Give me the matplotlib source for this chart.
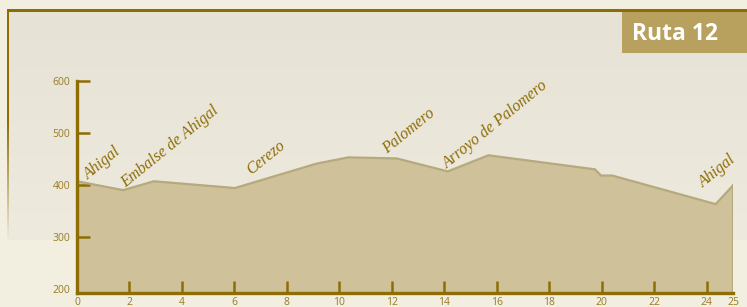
import numpy as np
import matplotlib
matplotlib.use("Agg")
import matplotlib.pyplot as plt
from matplotlib.colors import to_rgb

# ---- data ----
km = [0.0, 1.76, 2.93, 6.02, 9.13, 10.34, 12.18, 14.13, 15.68, 19.74, 19.97, 20.4, 24.34, 25.0]
elev = [407, 390, 407, 394, 441, 453, 451, 426, 457, 430, 418, 418, 363, 399]

place_names = ["Ahigal", "Embalse de Ahigal", "Cerezo", "Palomero", "Arroyo de Palomero", "Ahigal"]
place_km = [0.44, 1.84, 6.62, 11.8, 14.1, 23.88]
place_elev = [410, 394, 420, 459, 430, 395]

xtick_vals = [0, 2, 4, 6, 8, 10, 12, 14, 16, 18, 20, 22, 24, 25]
ytick_vals = [200, 300, 400, 500, 600]
title_text = "Ruta 12"

# ---- style ----
W, H, DPI = 747, 307, 100
BG = "#F2EEE0"
PANEL_TOP = "#E6E2D6"
PANEL_BOT = "#EEEADE"
BROWN = "#8E6D05"
TICKCOL = "#9A7B22"
FILL = "#CFC29B"
EDGE = "#B5A97E"
BOX = "#B8A05E"

fig = plt.figure(figsize=(W / DPI, H / DPI), dpi=DPI)
fig.patch.set_facecolor(BG)

# background panel (decoration)
img = np.ones((H, W, 3)) * np.array(to_rgb(BG))
top, bot = 11, 240
pt, pb = np.array(to_rgb(PANEL_TOP)), np.array(to_rgb(PANEL_BOT))
for r in range(top, bot):
    t = (r - top) / (bot - top)
    img[r, 8:, :] = pt * (1 - t) + pb * t
br = np.array(to_rgb(BROWN))
img[9:12, 7:, :] = br
for r in range(9, bot):
    a = 1.0 if r < 120 else max(0.0, 1 - (r - 120) / (bot - 120))
    img[r, 7:9, :] = br * a + img[r, 7:9, :] * (1 - a)
bgax = fig.add_axes([0, 0, 1, 1], zorder=-5)
bgax.imshow(img, aspect="auto", extent=(0, W, H, 0), interpolation="nearest")
bgax.set_xlim(0, W)
bgax.set_ylim(H, 0)
bgax.axis("off")

# title box
fig.patches.append(plt.Rectangle((622 / W, 1 - 53 / H), (W - 622) / W, 41 / H,
                                 transform=fig.transFigure, facecolor=BOX,
                                 edgecolor="none", zorder=1))
fig.text(675 / W, 1 - 34 / H, title_text, color="white", fontsize=16.5,
         fontweight="bold", family="Open Sans", ha="center", va="center",
         zorder=2)

# main axes
ymin = 192
ax = fig.add_axes([77 / W, 14 / H, 656 / W, 212 / H])
ax.set_facecolor("none")
ax.set_xlim(0, 25)
ax.set_ylim(ymin, 600)

ax.fill_between(km, elev, ymin, facecolor=FILL, edgecolor="none", zorder=1)
ax.plot(km, elev, color=EDGE, lw=1.6, zorder=2, solid_joinstyle="miter")
ax.plot([km[-1], km[-1]], [ymin, elev[-1]], color=EDGE, lw=1.6, zorder=2)

for s in ["top", "right"]:
    ax.spines[s].set_visible(False)
for s in ["left", "bottom"]:
    ax.spines[s].set_color(BROWN)
    ax.spines[s].set_linewidth(2.4)
    ax.spines[s].set_zorder(5)

ax.xaxis.remove_overlapping_locs = False
ax.yaxis.remove_overlapping_locs = False
ax.set_xticks(xtick_vals)
ax.set_xticklabels([str(v) for v in xtick_vals])
ax.set_xticks([v for v in xtick_vals if 0 < v < 25], minor=True)
ax.set_yticks(ytick_vals)
ax.set_yticklabels([str(v) for v in ytick_vals])
ax.set_yticks([v for v in ytick_vals if v > 200], minor=True)

ax.tick_params(axis="both", which="major", length=0, labelcolor=TICKCOL,
               labelsize=7.5)
ax.tick_params(axis="x", which="major", pad=3)
ax.tick_params(axis="y", which="major", pad=5)
ax.tick_params(axis="both", which="minor", direction="in", length=9,
               width=1.8, color=BROWN)
for t in ax.xaxis.get_minor_ticks() + ax.yaxis.get_minor_ticks():
    t.tick1line.set_zorder(6)
for lab in ax.get_xticklabels() + ax.get_yticklabels():
    lab.set_family("Open Sans")

for name, x, y in zip(place_names, place_km, place_elev):
    ax.text(x, y, name, rotation=39, rotation_mode="anchor", ha="left",
            va="baseline", color=BROWN, fontsize=11.5, style="italic",
            family="Liberation Serif", zorder=6, clip_on=False)

fig.savefig("out.png", dpi=DPI, facecolor=BG)
